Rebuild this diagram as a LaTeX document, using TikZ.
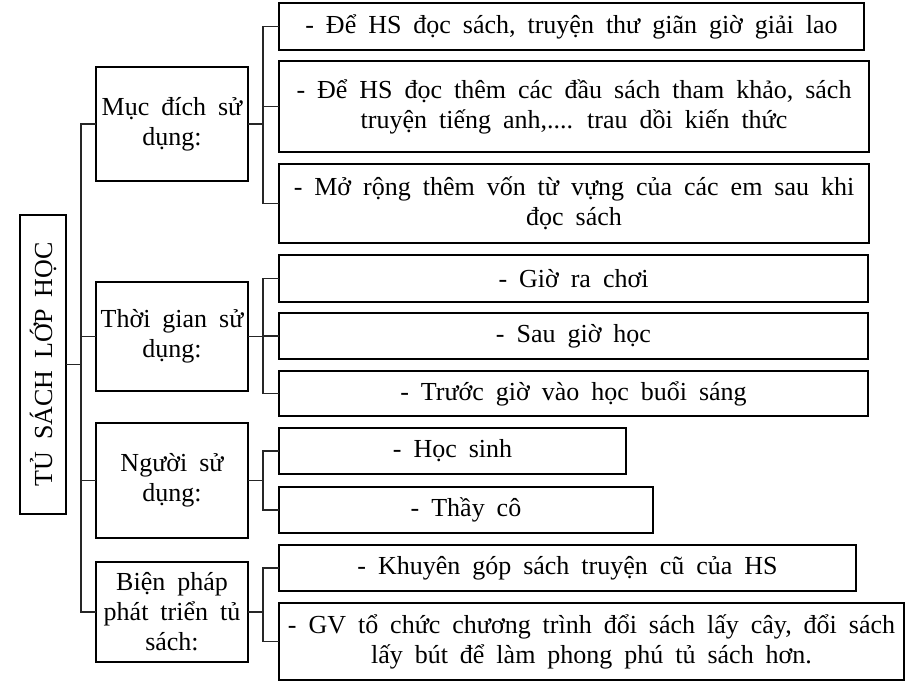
\documentclass[tikz,border=0pt]{standalone}
\usepackage{fontspec}
\setmainfont{Liberation Serif}
\usetikzlibrary{positioning, calc}
\newcommand\boxfont{\fontsize{26}{30}\selectfont\spaceskip=0.46em plus 0.1em\relax}

\begin{document}
\begin{tikzpicture}[x=1pt, y=-1pt,
    box/.style={draw, line width=1.6pt, inner sep=0pt, outer sep=0pt, align=center, font=\boxfont},
    conn/.style={line width=1.4pt, black!85}]

    \useasboundingbox (0,0) rectangle (924,689);

    % Goc: tu sach
    \node[box, minimum width=299pt, minimum height=46pt, rotate=90] (root) at (43,364.5) {TỦ SÁCH LỚP HỌC};

    % Cac nhom
    \node[box, minimum width=152pt, minimum height=114pt] (mucdich) at (172,124) {Mục đích sử\\ dụng:};
    \node[box, minimum width=152pt, minimum height=109pt] (thoigian) at (172,336.5) {Thời gian sử\\ dụng:};
    \node[box, minimum width=152pt, minimum height=115pt] (nguoi) at (172,480.5) {Người sử\\ dụng:};
    \node[box, minimum width=152pt, minimum height=100pt] (bienphap) at (172,612) {Biện pháp\\ phát triển tủ\\ sách:};

    % Muc dich su dung
    \node[box, minimum width=585pt, minimum height=47pt] (md1) at (571.5,26.5) {- Để HS đọc sách, truyện thư giãn giờ giải lao};
    \node[box, minimum width=590pt, minimum height=91pt] (md2) at (574,106.5) {- Để HS đọc thêm các đầu sách tham khảo, sách\\ truyện tiếng anh,.... trau dồi kiến thức};
    \node[box, minimum width=590pt, minimum height=79pt] (md3) at (574,203.5) {- Mở rộng thêm vốn từ vựng của các em sau khi\\ đọc sách};

    % Thoi gian su dung
    \node[box, minimum width=589pt, minimum height=47pt] (tg1) at (573.5,278.5) {- Giờ ra chơi};
    \node[box, minimum width=589pt, minimum height=46pt] (tg2) at (573.5,336) {- Sau giờ học};
    \node[box, minimum width=589pt, minimum height=45pt] (tg3) at (573.5,393.5) {- Trước giờ vào học buổi sáng};

    % Nguoi su dung
    \node[box, minimum width=347pt, minimum height=46pt] (ng1) at (452.5,451) {- Học sinh};
    \node[box, minimum width=374pt, minimum height=46pt] (ng2) at (466,510) {- Thầy cô};

    % Bien phap phat trien
    \node[box, minimum width=577pt, minimum height=46pt] (bp1) at (567.5,568) {- Khuyên góp sách truyện cũ của HS};
    \node[box, minimum width=625pt, minimum height=77pt] (bp2) at (591.5,641.5) {- GV tổ chức chương trình đổi sách lấy cây, đổi sách\\ lấy bút để làm phong phú tủ sách hơn.};

    % Duong noi tu goc
    \draw[conn] (root.south) -- +(15,0) |- (mucdich.west);
    \draw[conn] (root.south) -- +(15,0) |- (thoigian.west);
    \draw[conn] (root.south) -- +(15,0) |- (nguoi.west);
    \draw[conn] (root.south) -- +(15,0) |- (bienphap.west);

    % Duong noi tu nhom
    \draw[conn] (mucdich.east) -- +(15,0) |- (md1.west);
    \draw[conn] (mucdich.east) -- +(15,0) |- (md2.west);
    \draw[conn] (mucdich.east) -- +(15,0) |- (md3.west);
    \draw[conn] (thoigian.east) -- +(15,0) |- (tg1.west);
    \draw[conn] (thoigian.east) -- +(15,0) |- (tg2.west);
    \draw[conn] (thoigian.east) -- +(15,0) |- (tg3.west);
    \draw[conn] (nguoi.east) -- +(15,0) |- (ng1.west);
    \draw[conn] (nguoi.east) -- +(15,0) |- (ng2.west);
    \draw[conn] (bienphap.east) -- +(15,0) |- (bp1.west);
    \draw[conn] (bienphap.east) -- +(15,0) |- (bp2.west);

\end{tikzpicture}
\end{document}
